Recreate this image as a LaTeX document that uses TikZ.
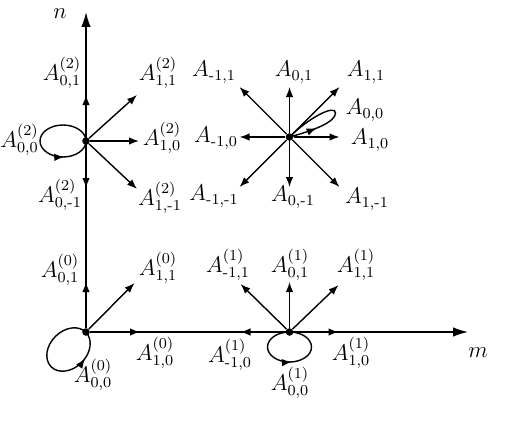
\documentclass[tikz,border=0pt]{standalone}
\usepackage{amsmath}
\usetikzlibrary{calc,arrows.meta,decorations.markings}

\newcommand{\mneg}{\text{-}}

\begin{document}
\begin{tikzpicture}[
every node/.style={font=\large, scale=1.08},
dot/.style={circle, fill, inner sep=0pt, minimum size=1.4mm},
arr/.style={-{Latex[length=2mm,width=1.5mm]}, line width=0.8pt},
axis/.style={-{Latex[length=3mm,width=1.9mm]}, line width=0.8pt},
loopy/.style={line width=0.8pt, postaction={decorate},
decoration={markings, mark=at position #1 with {\arrow{Latex[length=2mm,width=1.5mm]}}}}
]

\useasboundingbox (-1.72,-2.1) rectangle (8.8,6.64);

\node[dot] (O) at (0,0) {};
\node[dot] (P2) at (0,3.82) {};
\node[dot] (P1) at (4.07,0) {};
\node[dot] (C) at (4.07,3.9) {};

% axes
\coordinate (nend) at (0,6.4);
\coordinate (mend) at (7.64,0);
\draw[axis] (O) -- (nend);
\draw[axis] (O) -- (mend);
\node (n) at (-0.52,6.36) {$n$};
\node (m) at (7.84,-0.42) {$m$};

% level 0
\coordinate (O-n) at (0,1);
\coordinate (O-ne) at (0.97,0.98);
\coordinate (O-e) at (1.08,0);
\draw[arr] (O) -- (O-n);
\draw[arr] (O) -- (O-ne);
\draw[arr] (O) -- (O-e);
\draw[loopy=0.79, rotate around={45:(-0.35,-0.35)}] (-0.35,-0.35) ellipse (0.49 and 0.37);

\node (a0n) at (-0.52,1.24) {$A^{(0)}_{0,1}$};
\node (a0ne) at (1.44,1.28) {$A^{(0)}_{1,1}$};
\node (a0e) at (1.38,-0.42) {$A^{(0)}_{1,0}$};
\node (a0o) at (0.14,-0.86) {$A^{(0)}_{0,0}$};

% level 1
\coordinate (P1-w) at (3.09,0);
\coordinate (P1-nw) at (3.09,0.96);
\coordinate (P1-n) at (4.07,1);
\coordinate (P1-ne) at (5.05,0.94);
\coordinate (P1-e) at (5.05,0);
\draw[arr] (P1) -- (P1-w);
\draw[arr] (P1) -- (P1-nw);
\draw[arr] (P1) -- (P1-n);
\draw[arr] (P1) -- (P1-ne);
\draw[arr] (P1) -- (P1-e);
\draw[loopy=0.77] ($(P1)+(0,-0.3)$) ellipse (0.44 and 0.3);

\node (a1nw) at (2.84,1.34) {$A^{(1)}_{\mneg1,1}$};
\node (a1n) at (4.08,1.34) {$A^{(1)}_{0,1}$};
\node (a1ne) at (5.4,1.34) {$A^{(1)}_{1,1}$};
\node (a1w) at (2.88,-0.46) {$A^{(1)}_{\mneg1,0}$};
\node (a1e) at (5.3,-0.42) {$A^{(1)}_{1,0}$};
\node (a1o) at (4.08,-1.02) {$A^{(1)}_{0,0}$};

% level 2
\coordinate (P2-n) at (0,4.74);
\coordinate (P2-ne) at (1.02,4.74);
\coordinate (P2-e) at (1.06,3.82);
\coordinate (P2-se) at (1.02,2.86);
\coordinate (P2-s) at (0,2.88);
\draw[arr] (P2) -- (P2-n);
\draw[arr] (P2) -- (P2-ne);
\draw[arr] (P2) -- (P2-e);
\draw[arr] (P2) -- (P2-se);
\draw[arr] (P2) -- (P2-s);
\draw[loopy=0.76] ($(P2)+(-0.46,0)$) ellipse (0.46 and 0.32);

\node (a2n) at (-0.48,5.18) {$A^{(2)}_{0,1}$};
\node (a2ne) at (1.44,5.18) {$A^{(2)}_{1,1}$};
\node (a2o) at (-1.33,3.84) {$A^{(2)}_{0,0}$};
\node (a2e) at (1.52,3.88) {$A^{(2)}_{1,0}$};
\node (a2s) at (-0.52,2.74) {$A^{(2)}_{0,\mneg1}$};
\node (a2se) at (1.48,2.68) {$A^{(2)}_{1,\mneg1}$};

% general step
\foreach \dx/\dy/\nm in {1/0/e, 1/1/ne, 0/1/n, -1/1/nw, -1/0/w, -1/-1/sw, 0/-1/s, 1/-1/se} {
\coordinate (C-\nm) at ($(C)+(\dx,\dy)$);
\draw[arr] (C) -- (C-\nm);
}
\coordinate (C-tip) at ($(C)+(0.92,0.48)$);
\draw[loopy=0.26] (C.center) .. controls +(15:0.5) and +(-90:0.18) .. (C-tip)
.. controls +(90:0.18) and +(45:0.55) .. (C.center);

\node (anw) at (2.56,5.2) {$A_{\mneg1,1}$};
\node (an) at (4.16,5.2) {$A_{0,1}$};
\node (ane) at (5.6,5.2) {$A_{1,1}$};
\node (ao) at (5.58,4.44) {$A_{0,0}$};
\node (aw) at (2.6,3.88) {$A_{\mneg1,0}$};
\node (ae) at (5.68,3.84) {$A_{1,0}$};
\node (asw) at (2.56,2.72) {$A_{\mneg1,\mneg1}$};
\node (as) at (4.14,2.7) {$A_{0,\mneg1}$};
\node (ase) at (5.62,2.66) {$A_{1,\mneg1}$};

\end{tikzpicture}
\end{document}
